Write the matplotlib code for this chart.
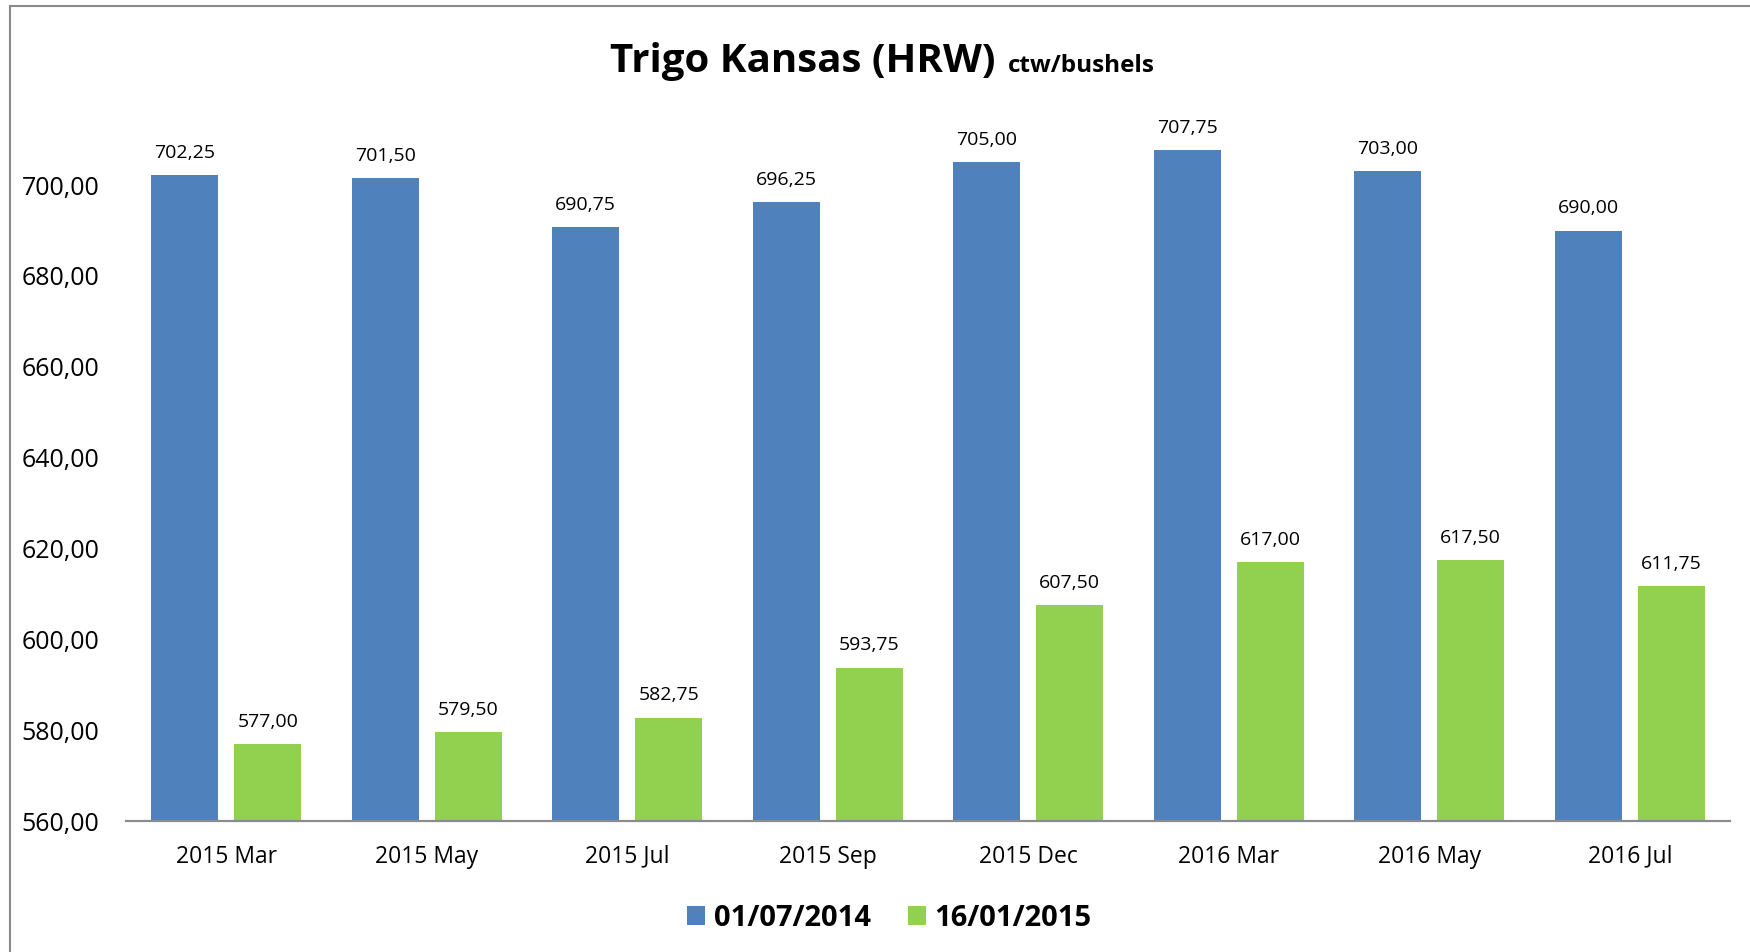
import matplotlib
matplotlib.use("Agg")
import matplotlib.pyplot as plt
import matplotlib.patches as mpatches
from matplotlib.ticker import FuncFormatter
import numpy as np

plt.rcParams['font.family'] = ['Open Sans', 'DejaVu Sans']

categories = ["2015 Mar", "2015 May", "2015 Jul", "2015 Sep",
              "2015 Dec", "2016 Mar", "2016 May", "2016 Jul"]
serie_2014 = [702.25, 701.50, 690.75, 696.25, 705.00, 707.75, 703.00, 690.00]
serie_2015 = [577.00, 579.50, 582.75, 593.75, 607.50, 617.00, 617.50, 611.75]
series_names = ["01/07/2014", "16/01/2015"]

blue = "#4F81BD"
green = "#92D050"

def comma(v):
    return f"{v:.2f}".replace(".", ",")

fig = plt.figure(figsize=(17.5, 9.52), dpi=100)
ax = fig.add_axes([0.072, 0.1376, 0.9166, 0.7634])

x = np.arange(len(categories))
w = 0.334
off = 0.207
b1 = ax.bar(x - off, serie_2014, w, color=blue, label=series_names[0])
b2 = ax.bar(x + off, serie_2015, w, color=green, label=series_names[1])

for bars, vals in ((b1, serie_2014), (b2, serie_2015)):
    for rect, v in zip(bars, vals):
        ax.annotate(comma(v), (rect.get_x() + rect.get_width() / 2, v),
                    xytext=(0, 16), textcoords="offset points",
                    ha="center", va="center", fontsize=14)

ax.set_ylim(560, 720)
ax.set_xlim(-0.5, len(categories) - 0.5)
ax.set_yticks([560, 580, 600, 620, 640, 660, 680, 700])
ax.yaxis.set_major_formatter(FuncFormatter(lambda v, p: comma(v)))
ax.set_xticks(x)
ax.set_xticklabels(categories)
ax.tick_params(axis="y", length=0, pad=19, labelsize=18)
ax.tick_params(axis="x", length=0, pad=17, labelsize=16.5)
for s in ["top", "right", "left"]:
    ax.spines[s].set_visible(False)
ax.spines["bottom"].set_color("#8c8c8c")
ax.spines["bottom"].set_linewidth(1.6)

# title in two sizes
fig.text(0.5686, 0.9247, "Trigo Kansas (HRW)", ha="right", va="baseline",
         fontsize=29, fontweight="bold")
fig.text(0.576, 0.9247, "ctw/bushels", ha="left", va="baseline",
         fontsize=17.5, fontweight="bold")

ax.legend(loc="center", bbox_to_anchor=(0.476, -0.134),
          ncol=2, frameon=False, prop={"size": 21, "weight": "bold"},
          handlelength=0.6, handleheight=0.6, handletextpad=0.3,
          columnspacing=1.3)

# chart frame (left and top edges visible)
frame = mpatches.Rectangle((9.5 / 1750, -0.1), 1.2, 1 - 5.5 / 952 + 0.1,
                           transform=fig.transFigure, fill=False,
                           edgecolor="#8a8a8a", linewidth=1.5)
fig.patches.append(frame)

fig.savefig("out.png", dpi=100)
